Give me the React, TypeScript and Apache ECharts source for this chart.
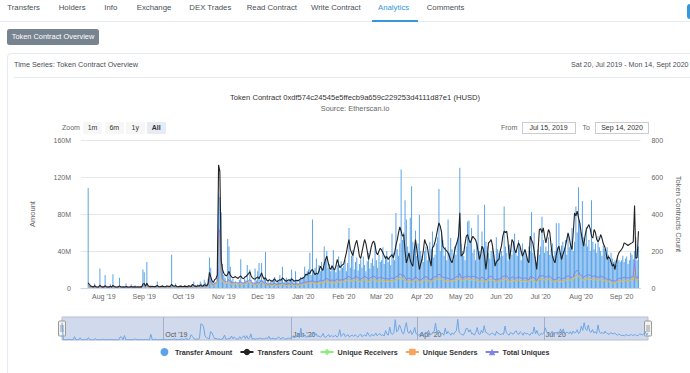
import React, { useEffect, useRef } from "react";
import * as echarts from "echarts";

// ---------- axis / category setup ----------
const AXIS_START = "2019-07-15"; // From date shown in the chart
const AXIS_DAYS = 429; // Jul 15 2019 .. Sep 15 2020
const DATA_START = "2019-07-20";
const DATA_DAYS = 423; // Jul 20 2019 .. Sep 14 2020
const LEAD_DAYS = 5; // empty days before the first data point
const TRAIL_DAYS = 1;
const MONTHS = ["Jan", "Feb", "Mar", "Apr", "May", "Jun", "Jul", "Aug", "Sep", "Oct", "Nov", "Dec"];
const LEFT_TICKS = { min: 0, max: 160, interval: 40 }; // millions
const RIGHT_TICKS = { min: 0, max: 800, interval: 200 };

// ---------- Transfer Amount (millions), by month ----------
const amountJul19 = [108, 2, 1, 2, 1, 5, 2, 1, 1, 21, 2, 1];
const amountAug19 = [1, 14, 1, 2, 1, 4, 1, 15, 2, 1, 1, 1, 11, 1, 2, 1, 1, 5, 2, 1, 1, 4, 1, 2, 3, 1, 2, 1, 2, 1, 20];
const amountSep19 = [17, 2, 28, 1, 2, 3, 1, 2, 2, 3, 7, 2, 1, 2, 3, 1, 2, 3, 2, 1, 2, 36, 2, 1, 5, 2, 1, 2, 3, 2];
const amountOct19 = [2, 3, 2, 1, 3, 2, 3, 4, 7, 3, 2, 4, 3, 7, 5, 3, 9, 6, 4, 10, 33, 22, 8, 5, 6, 6, 9, 102, 98, 82, 26];
const amountNov19 = [14, 11, 6, 53, 45, 23, 8, 10, 5, 7, 4, 6, 9, 31, 5, 6, 10, 8, 25, 7, 20, 9, 6, 5, 21, 8, 18, 27, 9, 27];
const amountDec19 = [8, 12, 39, 6, 9, 5, 8, 7, 10, 12, 6, 9, 7, 14, 8, 23, 6, 9, 11, 7, 8, 10, 20, 9, 6, 18, 8, 5, 9, 12, 10];
const amountJan20 = [12, 23, 15, 18, 20, 38, 14, 74, 19, 22, 32, 16, 25, 18, 28, 21, 45, 30, 40, 22, 26, 18, 24, 41, 20, 17, 25, 34, 19, 29, 22];
const amountFeb20 = [24, 30, 18, 27, 65, 22, 35, 41, 20, 28, 33, 19, 26, 31, 22, 34, 25, 18, 29, 38, 21, 27, 32, 24, 49, 30, 22, 36, 28];
const amountMar20 = [30, 44, 26, 35, 40, 28, 33, 25, 59, 38, 30, 81, 42, 35, 48, 128, 52, 60, 95, 74, 45, 38, 76, 110, 50, 42, 62, 35, 48, 79, 40];
const amountApr20 = [35, 28, 40, 45, 30, 38, 50, 42, 61, 33, 36, 48, 55, 107, 40, 63, 52, 35, 44, 30, 74, 38, 54, 42, 30, 45, 36, 50, 58, 130];
const amountMay20 = [48, 40, 35, 30, 45, 72, 73, 50, 65, 38, 42, 30, 48, 79, 40, 35, 61, 44, 90, 50, 45, 38, 32, 40, 44, 36, 30, 55, 42, 38, 34];
const amountJun20 = [40, 35, 88, 45, 38, 30, 47, 42, 36, 50, 59, 40, 35, 52, 44, 30, 48, 38, 42, 35, 30, 45, 40, 82, 38, 60, 34, 28, 42, 36];
const amountJul20 = [45, 77, 52, 38, 45, 40, 55, 36, 42, 48, 35, 40, 70, 44, 70, 38, 46, 50, 40, 52, 36, 56, 44, 48, 65, 40, 50, 88, 60, 109, 70];
const amountAug20 = [60, 94, 55, 48, 66, 45, 52, 40, 95, 50, 42, 48, 38, 56, 44, 40, 35, 46, 42, 38, 44, 36, 30, 38, 32, 28, 30, 25, 35, 30, 28];
const amountSep20 = [30, 35, 28, 32, 34, 26, 30, 38, 36, 31, 40, 55, 30, 45];

// ---------- Transfers Count ----------
const countJul19 = [28, 18, 10, 8, 6, 12, 7, 5, 6, 15, 8, 6];
const countAug19 = [6, 12, 7, 5, 6, 9, 6, 14, 8, 6, 5, 6, 11, 7, 5, 6, 5, 8, 6, 5, 6, 8, 5, 6, 7, 5, 6, 5, 7, 6, 22];
const countSep19 = [24, 10, 26, 12, 8, 7, 9, 8, 7, 10, 14, 8, 7, 9, 10, 8, 7, 9, 11, 8, 10, 20, 12, 9, 14, 8, 7, 9, 10, 8];
const countOct19 = [8, 10, 9, 7, 12, 10, 9, 20, 14, 10, 9, 12, 11, 16, 12, 10, 18, 15, 12, 25, 85, 60, 38, 30, 45, 50, 70, 665, 630, 150, 100];
const countNov19 = [80, 70, 65, 75, 90, 70, 60, 55, 58, 62, 55, 52, 60, 65, 55, 50, 58, 62, 70, 78, 88, 65, 55, 50, 48, 55, 60, 50, 65, 82];
const countDec19 = [60, 48, 55, 42, 38, 45, 40, 36, 42, 50, 38, 35, 40, 45, 42, 55, 48, 40, 36, 42, 45, 38, 50, 44, 36, 40, 42, 38, 45, 50, 52];
const countJan20 = [55, 62, 75, 70, 82, 78, 95, 100, 85, 72, 80, 75, 90, 118, 105, 95, 130, 154, 172, 140, 110, 100, 120, 105, 98, 120, 154, 130, 110, 118, 125];
const countFeb20 = [130, 160, 190, 230, 262, 210, 190, 175, 210, 240, 258, 220, 172, 160, 195, 230, 262, 240, 200, 154, 180, 220, 245, 253, 230, 190, 180, 200, 215];
const countMar20 = [205, 190, 175, 160, 170, 154, 165, 172, 180, 163, 190, 230, 260, 298, 330, 307, 280, 289, 200, 136, 160, 190, 150, 130, 118, 200, 262, 210, 150, 100, 130];
const countApr20 = [154, 200, 262, 240, 226, 180, 150, 118, 217, 226, 250, 280, 320, 352, 334, 300, 226, 215, 208, 200, 190, 170, 150, 136, 160, 200, 230, 250, 280, 406];
const countMay20 = [172, 180, 190, 240, 280, 289, 260, 244, 262, 280, 270, 262, 240, 200, 154, 180, 226, 210, 170, 100, 160, 244, 250, 262, 230, 180, 118, 140, 150, 154, 200];
const countJun20 = [230, 280, 307, 300, 307, 250, 154, 200, 262, 250, 210, 190, 220, 244, 230, 200, 172, 190, 208, 180, 150, 136, 280, 260, 244, 200, 150, 100, 200, 316];
const countJul20 = [320, 300, 325, 280, 244, 280, 316, 300, 230, 172, 150, 136, 180, 210, 226, 190, 154, 180, 200, 226, 260, 298, 270, 230, 208, 300, 406, 390, 415, 380, 352];
const countAug20 = [300, 260, 226, 280, 316, 330, 343, 320, 280, 270, 316, 300, 262, 250, 262, 289, 270, 240, 226, 200, 154, 170, 160, 140, 118, 130, 100, 140, 172, 190, 200];
const countSep20 = [208, 220, 244, 240, 235, 230, 235, 240, 244, 250, 446, 160, 165, 307];

// ---------- Unique Receivers ----------
const recvJul19 = [8, 6, 4, 3, 3, 5, 3, 3, 3, 5, 3, 3];
const recvAug19 = [3, 4, 3, 3, 3, 4, 3, 5, 3, 3, 3, 3, 5, 3, 3, 3, 3, 3, 3, 3, 3, 3, 3, 3, 3, 3, 3, 3, 3, 3, 8];
const recvSep19 = [9, 5, 9, 5, 4, 4, 4, 4, 4, 4, 5, 4, 4, 4, 4, 4, 4, 4, 5, 4, 4, 8, 5, 4, 6, 4, 4, 4, 4, 4];
const recvOct19 = [4, 4, 4, 4, 5, 4, 4, 8, 6, 5, 4, 5, 5, 7, 5, 5, 7, 6, 5, 9, 28, 22, 15, 12, 16, 19, 25, 290, 270, 55, 33];
const recvNov19 = [29, 25, 24, 28, 31, 25, 21, 20, 21, 22, 20, 18, 21, 23, 20, 18, 21, 22, 25, 28, 31, 24, 20, 18, 17, 20, 21, 18, 23, 29];
const recvDec19 = [22, 18, 21, 15, 14, 17, 15, 14, 15, 18, 14, 13, 15, 17, 15, 20, 18, 15, 13, 15, 17, 14, 18, 16, 13, 15, 15, 14, 17, 18, 19];
const recvJan20 = [19, 21, 23, 22, 25, 24, 26, 28, 25, 22, 24, 23, 26, 29, 28, 26, 31, 34, 36, 32, 29, 28, 31, 29, 27, 31, 35, 32, 29, 31, 32];
const recvFeb20 = [32, 35, 38, 41, 45, 39, 36, 35, 38, 42, 43, 39, 35, 34, 36, 41, 45, 42, 38, 34, 36, 41, 43, 45, 42, 38, 36, 38, 41];
const recvMar20 = [39, 38, 36, 35, 36, 34, 35, 36, 38, 35, 38, 42, 45, 49, 53, 50, 48, 49, 41, 32, 35, 38, 35, 32, 31, 38, 43, 39, 35, 29, 32];
const recvApr20 = [34, 38, 43, 42, 41, 36, 34, 29, 39, 41, 42, 45, 49, 52, 50, 46, 41, 39, 38, 38, 36, 35, 34, 32, 35, 39, 42, 43, 46, 55];
const recvMay20 = [41, 39, 39, 42, 45, 46, 43, 42, 43, 45, 43, 42, 41, 38, 34, 36, 41, 39, 36, 29, 35, 42, 43, 45, 41, 36, 31, 32, 34, 34, 36];
const recvJun20 = [39, 43, 46, 45, 46, 41, 32, 36, 42, 41, 38, 36, 39, 42, 41, 38, 35, 36, 39, 36, 34, 31, 43, 42, 41, 38, 34, 28, 36, 46];
const recvJul20 = [48, 45, 48, 43, 41, 43, 46, 45, 39, 35, 32, 31, 35, 38, 41, 36, 34, 36, 38, 41, 43, 46, 43, 41, 39, 45, 56, 64, 68, 62, 52];
const recvAug20 = [48, 43, 41, 45, 48, 49, 50, 48, 45, 43, 46, 45, 42, 41, 42, 45, 43, 41, 39, 36, 32, 34, 32, 29, 27, 28, 25, 29, 34, 36, 38];
const recvSep20 = [36, 38, 41, 39, 39, 38, 39, 41, 42, 43, 100, 42, 36, 46];

// ---------- Unique Senders ----------
const sendJul19 = [9, 7, 5, 4, 3, 5, 4, 3, 3, 6, 4, 3];
const sendAug19 = [3, 5, 4, 3, 3, 5, 3, 6, 4, 3, 3, 3, 5, 4, 3, 3, 3, 4, 3, 3, 3, 4, 3, 3, 4, 3, 3, 3, 4, 3, 9];
const sendSep19 = [10, 5, 10, 6, 5, 4, 5, 4, 4, 5, 6, 4, 4, 5, 5, 4, 4, 5, 5, 4, 5, 9, 6, 5, 7, 4, 4, 5, 5, 4];
const sendOct19 = [4, 5, 5, 4, 5, 5, 5, 9, 7, 5, 5, 6, 5, 8, 6, 5, 8, 7, 6, 10, 30, 24, 16, 13, 18, 21, 27, 300, 280, 60, 36];
const sendNov19 = [31, 27, 25, 30, 33, 27, 22, 21, 22, 24, 21, 19, 22, 25, 21, 19, 22, 24, 27, 30, 33, 25, 21, 19, 18, 21, 22, 19, 25, 31];
const sendDec19 = [24, 19, 22, 16, 15, 18, 16, 15, 16, 19, 15, 14, 16, 18, 16, 22, 19, 16, 14, 16, 18, 15, 19, 17, 14, 16, 16, 15, 18, 19, 20];
const sendJan20 = [21, 22, 25, 24, 27, 25, 28, 30, 27, 24, 26, 25, 28, 31, 30, 28, 33, 36, 39, 34, 31, 30, 33, 31, 29, 33, 37, 34, 31, 33, 34];
const sendFeb20 = [34, 37, 40, 43, 48, 42, 39, 37, 41, 45, 46, 42, 37, 36, 39, 43, 48, 45, 40, 36, 39, 43, 46, 48, 45, 40, 39, 41, 43];
const sendMar20 = [42, 40, 39, 37, 39, 36, 37, 39, 41, 37, 40, 45, 48, 52, 57, 54, 51, 52, 43, 34, 37, 40, 37, 34, 33, 40, 46, 42, 37, 31, 34];
const sendApr20 = [36, 40, 46, 45, 43, 39, 36, 31, 42, 43, 45, 48, 52, 55, 54, 49, 43, 42, 41, 40, 39, 37, 36, 34, 37, 42, 45, 46, 49, 58];
const sendMay20 = [43, 42, 42, 45, 48, 49, 46, 45, 46, 48, 46, 45, 43, 40, 36, 39, 43, 42, 39, 31, 37, 45, 46, 48, 43, 39, 33, 34, 36, 36, 39];
const sendJun20 = [42, 46, 49, 48, 49, 43, 34, 39, 45, 43, 40, 39, 42, 45, 43, 40, 37, 39, 41, 39, 36, 33, 46, 45, 43, 40, 36, 30, 39, 49];
const sendJul20 = [51, 48, 51, 46, 43, 46, 49, 48, 42, 37, 34, 33, 37, 40, 43, 39, 36, 39, 40, 43, 46, 49, 46, 43, 42, 48, 60, 68, 72, 66, 55];
const sendAug20 = [51, 46, 43, 48, 51, 52, 54, 51, 48, 46, 49, 48, 45, 43, 45, 48, 46, 43, 42, 39, 34, 36, 34, 31, 28, 30, 27, 31, 36, 39, 40];
const sendSep20 = [39, 40, 43, 42, 41, 40, 42, 43, 45, 46, 110, 45, 39, 49];

// ---------- Total Uniques ----------
const totalJul19 = [12, 9, 6, 5, 4, 7, 5, 4, 4, 8, 5, 4];
const totalAug19 = [4, 7, 5, 4, 4, 6, 4, 8, 5, 4, 4, 4, 7, 5, 4, 4, 4, 5, 4, 4, 4, 5, 4, 4, 5, 4, 4, 4, 5, 4, 12];
const totalSep19 = [13, 7, 14, 8, 6, 5, 6, 5, 5, 6, 8, 5, 5, 6, 6, 5, 5, 6, 7, 5, 6, 12, 8, 6, 9, 5, 5, 6, 6, 5];
const totalOct19 = [5, 6, 6, 5, 7, 6, 6, 12, 9, 7, 6, 8, 7, 10, 8, 7, 11, 9, 8, 14, 40, 32, 22, 18, 24, 28, 36, 320, 300, 80, 48];
const totalNov19 = [42, 36, 34, 40, 45, 36, 30, 28, 30, 32, 28, 26, 30, 33, 28, 26, 30, 32, 36, 40, 45, 34, 28, 26, 25, 28, 30, 26, 33, 42];
const totalDec19 = [32, 26, 30, 22, 20, 24, 22, 20, 22, 26, 20, 19, 21, 24, 22, 29, 25, 21, 19, 22, 24, 20, 26, 23, 19, 21, 22, 20, 24, 26, 27];
const totalJan20 = [28, 30, 33, 32, 36, 34, 38, 40, 36, 32, 35, 33, 37, 42, 40, 38, 44, 48, 52, 46, 42, 40, 44, 41, 39, 44, 50, 46, 42, 44, 45];
const totalFeb20 = [46, 50, 54, 58, 64, 56, 52, 50, 55, 60, 62, 56, 50, 48, 52, 58, 64, 60, 54, 48, 52, 58, 62, 64, 60, 54, 52, 55, 58];
const totalMar20 = [56, 54, 52, 50, 52, 48, 50, 52, 55, 50, 54, 60, 64, 70, 76, 72, 68, 70, 58, 46, 50, 54, 50, 46, 44, 54, 62, 56, 50, 42, 46];
const totalApr20 = [48, 54, 62, 60, 58, 52, 48, 42, 56, 58, 60, 64, 70, 74, 72, 66, 58, 56, 55, 54, 52, 50, 48, 46, 50, 56, 60, 62, 66, 78];
const totalMay20 = [58, 56, 56, 60, 64, 66, 62, 60, 62, 64, 62, 60, 58, 54, 48, 52, 58, 56, 52, 42, 50, 60, 62, 64, 58, 52, 44, 46, 48, 48, 52];
const totalJun20 = [56, 62, 66, 64, 66, 58, 46, 52, 60, 58, 54, 52, 56, 60, 58, 54, 50, 52, 55, 52, 48, 44, 62, 60, 58, 54, 48, 40, 52, 66];
const totalJul20 = [68, 64, 68, 62, 58, 62, 66, 64, 56, 50, 46, 44, 50, 54, 58, 52, 48, 52, 54, 58, 62, 66, 62, 58, 56, 64, 80, 90, 96, 88, 74];
const totalAug20 = [68, 62, 58, 64, 68, 70, 72, 68, 64, 62, 66, 64, 60, 58, 60, 64, 62, 58, 56, 52, 46, 48, 46, 42, 38, 40, 36, 42, 48, 52, 54];
const totalSep20 = [52, 54, 58, 56, 55, 54, 56, 58, 60, 62, 150, 60, 52, 66];

const transferAmount = [
  ...amountJul19, ...amountAug19, ...amountSep19, ...amountOct19, ...amountNov19, ...amountDec19,
  ...amountJan20, ...amountFeb20, ...amountMar20, ...amountApr20, ...amountMay20, ...amountJun20,
  ...amountJul20, ...amountAug20, ...amountSep20,
];
const transfersCount = [
  ...countJul19, ...countAug19, ...countSep19, ...countOct19, ...countNov19, ...countDec19,
  ...countJan20, ...countFeb20, ...countMar20, ...countApr20, ...countMay20, ...countJun20,
  ...countJul20, ...countAug20, ...countSep20,
];
const uniqueReceivers = [
  ...recvJul19, ...recvAug19, ...recvSep19, ...recvOct19, ...recvNov19, ...recvDec19,
  ...recvJan20, ...recvFeb20, ...recvMar20, ...recvApr20, ...recvMay20, ...recvJun20,
  ...recvJul20, ...recvAug20, ...recvSep20,
];
const uniqueSenders = [
  ...sendJul19, ...sendAug19, ...sendSep19, ...sendOct19, ...sendNov19, ...sendDec19,
  ...sendJan20, ...sendFeb20, ...sendMar20, ...sendApr20, ...sendMay20, ...sendJun20,
  ...sendJul20, ...sendAug20, ...sendSep20,
];
const totalUniques = [
  ...totalJul19, ...totalAug19, ...totalSep19, ...totalOct19, ...totalNov19, ...totalDec19,
  ...totalJan20, ...totalFeb20, ...totalMar20, ...totalApr20, ...totalMay20, ...totalJun20,
  ...totalJul20, ...totalAug20, ...totalSep20,
];

// ---------- texts ----------
const TABS = ["Transfers", "Holders", "Info", "Exchange", "DEX Trades", "Read Contract", "Write Contract", "Analytics", "Comments"];
const ACTIVE_TAB = "Analytics";
const TITLE = "Token Contract 0xdf574c24545e5ffecb9a659c229253d4111d87e1 (HUSD)";
const SUBTITLE = "Source: Etherscan.io";
const ZOOM_BUTTONS = ["1m", "6m", "1y", "All"];
const FROM_DATE = "Jul 15, 2019";
const TO_DATE = "Sep 14, 2020";
const SERIES_NAMES = ["Transfer Amount", "Transfers Count", "Unique Receivers", "Unique Senders", "Total Uniques"];

const FONT = "'Liberation Sans', Arial, Helvetica, sans-serif";

function dayList(start: string, n: number): string[] {
  const [y, m, d] = start.split("-").map(Number);
  const t0 = Date.UTC(y, m - 1, d);
  const out: string[] = [];
  for (let i = 0; i < n; i++) out.push(new Date(t0 + i * 86400000).toISOString().slice(0, 10));
  return out;
}
const axisDates = dayList(AXIS_START, AXIS_DAYS);
const navDates = dayList(DATA_START, DATA_DAYS);
const monthLabel = (v: string) => `${MONTHS[Number(v.slice(5, 7)) - 1]} '${v.slice(2, 4)}`;
const isMonthStart = (_i: number, v: string) => v.slice(8, 10) === "01";
const isQuarterStart = (_i: number, v: string) =>
  v.slice(8, 10) === "01" && ["01", "04", "07", "10"].includes(v.slice(5, 7));
const pad = (arr: number[]) => [
  ...new Array(LEAD_DAYS).fill(null),
  ...arr,
  ...new Array(TRAIL_DAYS).fill(null),
];

const tabX = [7.3, 58.7, 104.3, 136.7, 189.3, 246.7, 311, 378, 426.7];
const zoomBtnBox = [
  [83, 19],
  [105, 18.5],
  [126, 18.5],
  [147, 18.5],
];

function handle(x: number) {
  return {
    type: "group",
    children: [
      { type: "rect", shape: { x: x - 3.5, y: 321, width: 7, height: 15, r: 1 }, style: { fill: "#f2f2f2", stroke: "#999999", lineWidth: 1 } },
      { type: "line", shape: { x1: x - 1, y1: 325, x2: x - 1, y2: 332 }, style: { stroke: "#999999", lineWidth: 1 } },
      { type: "line", shape: { x1: x + 1, y1: 325, x2: x + 1, y2: 332 }, style: { stroke: "#999999", lineWidth: 1 } },
    ],
  };
}

export default function App() {
  const ref = useRef<HTMLDivElement>(null);

  useEffect(() => {
    if (!ref.current) return;
    const chart = echarts.init(ref.current, null, { renderer: "svg" });
    const lineSeries = (name: string, data: number[], color: string, symbol: string, width: number, z: number) => ({
      name,
      type: "line",
      xAxisIndex: 0,
      yAxisIndex: 1,
      data: pad(data),
      symbol,
      symbolSize: 6,
      showSymbol: false,
      lineStyle: { color, width },
      itemStyle: { color },
      z,
    });
    chart.setOption({
      animation: false,
      textStyle: { fontFamily: FONT },
      title: {
        text: TITLE,
        subtext: SUBTITLE,
        left: "center",
        top: 92,
        padding: 0,
        itemGap: 1,
        textStyle: { fontSize: 7.6, fontWeight: "normal", color: "#333333", lineHeight: 10, fontFamily: FONT },
        subtextStyle: { fontSize: 7.4, color: "#666666", lineHeight: 10, fontFamily: FONT },
      },
      legend: {
        top: 348,
        left: "center",
        padding: 0,
        itemWidth: 13,
        itemHeight: 8,
        itemGap: 7,
        data: [
          { name: SERIES_NAMES[0], icon: "circle" },
          SERIES_NAMES[1],
          SERIES_NAMES[2],
          SERIES_NAMES[3],
          SERIES_NAMES[4],
        ],
        textStyle: { fontSize: 7.2, fontWeight: "bold", color: "#333333", fontFamily: FONT, padding: [0, 0, 0, -1] },
      },
      grid: [
        { left: 42, right: 42, top: 140, bottom: 85 },
        {
          left: 42,
          right: 42,
          top: 317,
          bottom: 33,
          show: true,
          backgroundColor: "rgba(102,133,194,0.3)",
          borderColor: "#b6bfcf",
          borderWidth: 1,
        },
      ],
      xAxis: [
        {
          type: "category",
          gridIndex: 0,
          data: axisDates,
          boundaryGap: true,
          axisLine: { show: true, lineStyle: { color: "#ccd6eb" } },
          axisTick: { show: false },
          splitLine: { show: false },
          axisLabel: {
            interval: isMonthStart,
            formatter: monthLabel,
            color: "#666666",
            fontSize: 7,
            margin: 5,
            fontFamily: FONT,
          },
        },
        {
          type: "category",
          gridIndex: 1,
          data: navDates,
          boundaryGap: false,
          axisLine: { show: false },
          axisTick: { show: false },
          splitLine: { show: true, interval: isQuarterStart, lineStyle: { color: "#a4b0c9", width: 1 } },
          axisLabel: {
            inside: true,
            interval: isQuarterStart,
            formatter: monthLabel,
            align: "left",
            padding: [0, 0, 0, 2],
            color: "#555555",
            fontSize: 7,
            margin: 2,
            fontFamily: FONT,
          },
        },
      ],
      yAxis: [
        {
          type: "value",
          gridIndex: 0,
          ...LEFT_TICKS,
          name: "Amount",
          nameLocation: "middle",
          nameRotate: 90,
          nameGap: 45,
          nameTextStyle: { color: "#666666", fontSize: 7.5, fontFamily: FONT },
          axisLine: { show: false },
          axisTick: { show: false },
          splitLine: { show: true, lineStyle: { color: "#e6e6e6" } },
          axisLabel: {
            formatter: (v: number) => (v === 0 ? "0" : `${v}M`),
            color: "#666666",
            fontSize: 7,
            margin: 10,
            fontFamily: FONT,
          },
        },
        {
          type: "value",
          gridIndex: 0,
          position: "right",
          ...RIGHT_TICKS,
          name: "Token Contracts Count",
          nameLocation: "middle",
          nameRotate: -90,
          nameGap: 32,
          nameTextStyle: { color: "#666666", fontSize: 7.5, fontFamily: FONT },
          axisLine: { show: false },
          axisTick: { show: false },
          splitLine: { show: false },
          axisLabel: { color: "#666666", fontSize: 7, margin: 11, fontFamily: FONT },
        },
        { type: "value", gridIndex: 1, min: 0, max: 145, show: false, splitLine: { show: false } },
      ],
      series: [
        {
          name: SERIES_NAMES[0],
          type: "bar",
          xAxisIndex: 0,
          yAxisIndex: 0,
          data: pad(transferAmount),
          barCategoryGap: "30%",
          itemStyle: { color: "#5aa3e8" },
          z: 1,
        },
        lineSeries(SERIES_NAMES[1], transfersCount, "#222222", "circle", 1.1, 5),
        lineSeries(SERIES_NAMES[2], uniqueReceivers, "#90ed7d", "diamond", 1, 2),
        lineSeries(SERIES_NAMES[3], uniqueSenders, "#f7a35c", "rect", 1, 3),
        lineSeries(SERIES_NAMES[4], totalUniques, "#8085e9", "triangle", 1, 4),
        {
          name: "Navigator",
          type: "line",
          xAxisIndex: 1,
          yAxisIndex: 2,
          data: transferAmount,
          showSymbol: false,
          symbol: "none",
          silent: true,
          lineStyle: { color: "#6ea6e4", width: 1 },
        },
      ],
      graphic: [handle(42), handle(628)],
    });
    return () => chart.dispose();
  }, []);

  const base: React.CSSProperties = { position: "absolute", whiteSpace: "nowrap", fontFamily: FONT };

  return (
    <div
      style={{
        position: "fixed",
        left: 0,
        top: 0,
        width: 690,
        height: 373,
        overflow: "hidden",
        background: "#ffffff",
        fontFamily: FONT,
      }}
    >
      {/* tab bar */}
      {TABS.map((t, i) => (
        <div
          key={t}
          style={{
            ...base,
            left: tabX[i],
            top: 3,
            fontSize: 7.8,
            lineHeight: "10px",
            color: t === ACTIVE_TAB ? "#3498db" : "#4a4f55",
          }}
        >
          {t}
        </div>
      ))}
      <div style={{ ...base, left: 0, top: 21, width: 690, height: 1, background: "#e7eaf3" }} />
      <div style={{ ...base, left: 372, top: 20, width: 46, height: 2, background: "#3498db" }} />
      <div style={{ ...base, left: 687, top: 4, width: 12, height: 15, borderRadius: 3, background: "#3498db" }} />

      {/* overview button */}
      <div
        style={{
          ...base,
          left: 7,
          top: 29,
          width: 92,
          height: 16,
          borderRadius: 2.5,
          background: "#77838f",
          color: "#ffffff",
          fontSize: 7.4,
          lineHeight: "16px",
          textAlign: "center",
        }}
      >
        Token Contract Overview
      </div>

      {/* card */}
      <div
        style={{
          ...base,
          left: 7,
          top: 53,
          width: 720,
          height: 340,
          border: "1px solid #e7eaf3",
          borderRadius: 4,
          boxSizing: "border-box",
        }}
      />
      <div style={{ ...base, left: 14, top: 60, fontSize: 7.3, lineHeight: "10px", color: "#4a4f55" }}>
        Time Series: Token Contract Overview
      </div>
      <div style={{ ...base, left: 571, top: 60, fontSize: 7.1, lineHeight: "10px", color: "#4a4f55" }}>
        Sat 20, Jul 2019 - Mon 14, Sept 2020
      </div>
      <div style={{ ...base, left: 14, top: 77, width: 690, height: 1, background: "#e7eaf3" }} />

      {/* chart */}
      <div ref={ref} style={{ position: "absolute", left: 20, top: 0, width: 670, height: 373 }} />

      {/* range selector */}
      <div style={{ ...base, left: 62, top: 122.5, fontSize: 7, lineHeight: "10px", color: "#666666" }}>Zoom</div>
      {ZOOM_BUTTONS.map((b, i) => (
        <div
          key={b}
          style={{
            ...base,
            left: zoomBtnBox[i][0],
            top: 121.5,
            width: zoomBtnBox[i][1],
            height: 12.5,
            background: b === "All" ? "#e6ebf5" : "#f7f7f7",
            color: "#333333",
            fontSize: 7,
            fontWeight: b === "All" ? "bold" : "normal",
            lineHeight: "12.5px",
            textAlign: "center",
            borderRadius: 1,
          }}
        >
          {b}
        </div>
      ))}
      <div style={{ ...base, left: 501, top: 122.5, fontSize: 7, lineHeight: "10px", color: "#666666" }}>From</div>
      <div
        style={{
          ...base,
          left: 521.5,
          top: 121.5,
          width: 54,
          height: 12,
          border: "1px solid #cccccc",
          boxSizing: "border-box",
          fontSize: 7,
          lineHeight: "10px",
          textAlign: "center",
          color: "#333333",
        }}
      >
        {FROM_DATE}
      </div>
      <div style={{ ...base, left: 582.5, top: 122.5, fontSize: 7, lineHeight: "10px", color: "#666666" }}>To</div>
      <div
        style={{
          ...base,
          left: 595,
          top: 121.5,
          width: 54,
          height: 12,
          border: "1px solid #cccccc",
          boxSizing: "border-box",
          fontSize: 7,
          lineHeight: "10px",
          textAlign: "center",
          color: "#333333",
        }}
      >
        {TO_DATE}
      </div>
    </div>
  );
}
